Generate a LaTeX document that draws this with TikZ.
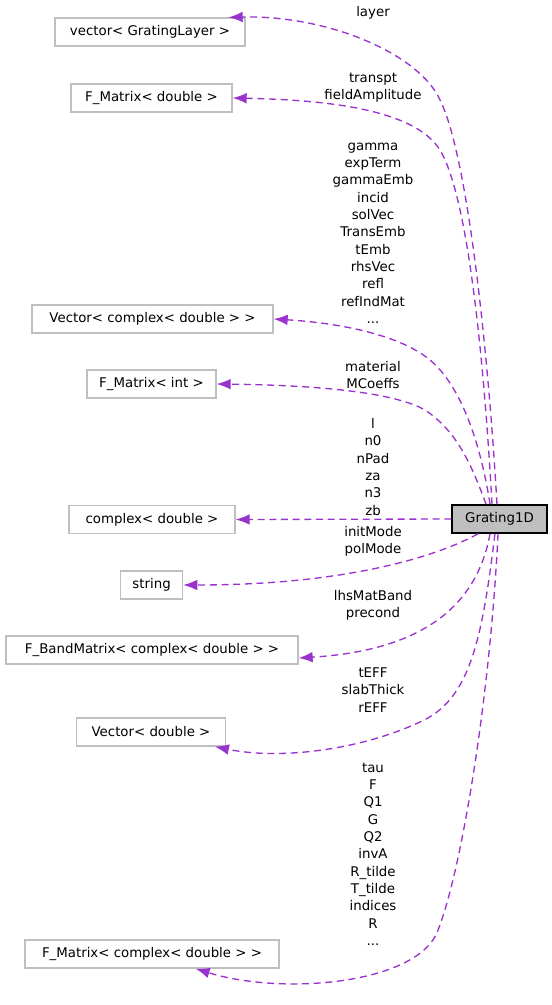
\documentclass[tikz,border=0pt]{standalone}
\usepackage{fontspec}
\setmainfont{DejaVu Sans}
\usetikzlibrary{arrows.meta}
\definecolor{edgeColor}{HTML}{9A32CD}
\definecolor{boxGray}{HTML}{BFBFBF}

\begin{document}
\begin{tikzpicture}[x=0.75pt,y=-0.75pt,font=\fontsize{10}{13}\selectfont]
	\tikzset{class/.style = {draw=boxGray,line width=1pt,minimum height=21pt,inner sep=0pt}}
	\tikzset{member/.style = {align=center,inner sep=0pt}}
	\tikzstyle{edge} = [-{Latex[length=10.5pt,width=8pt]},edgeColor,line width=1pt,dash pattern=on 5.25pt off 3.5pt]
	\useasboundingbox (0,0) rectangle (552,1005);
	%main class
	\node[class,draw=black,line width=1.1pt,fill=boxGray,minimum width=71.25pt] (g) at (499.5,519) {Grating1D};
	%member types
	\node[class,minimum width=142.5pt] (vgl) at (150,32) {vector< GratingLayer >};
	\node[class,minimum width=120.75pt] (fmd) at (151.5,98) {F\_Matrix< double >};
	\node[class,minimum width=180.75pt] (vcd) at (152.5,319) {Vector< complex< double > >};
	\node[class,minimum width=96.75pt] (fmi) at (151.5,384) {F\_Matrix< int >};
	\node[class,minimum width=124.5pt] (cd) at (152,519.5) {complex< double >};
	\node[class,minimum width=46.5pt] (str) at (151.6,585) {string};
	\node[class,minimum width=219pt] (bmc) at (152,650) {F\_BandMatrix< complex< double > >};
	\node[class,minimum width=111.4pt] (vd) at (151,732) {Vector< double >};
	\node[class,minimum width=190.5pt] (fmc) at (152,954) {F\_Matrix< complex< double > >};
	%member names
	\node[member] (mLayer) at (373,13) {layer};
	\node[member] (mFmd) at (373,88) {transpt\\fieldAmplitude};
	\node[member] (mVcd) at (373,233) {gamma\\expTerm\\gammaEmb\\incid\\solVec\\TransEmb\\tEmb\\rhsVec\\refl\\refIndMat\\...};
	\node[member] (mFmi) at (373,375) {material\\MCoeffs};
	\node[member] (mCd) at (373,467) {l\\n0\\nPad\\za\\n3\\zb};
	\node[member] (mStr) at (373,541) {initMode\\polMode};
	\node[member] (mBmc) at (373,605) {lhsMatBand\\precond};
	\node[member] (mVd) at (373,690) {tEFF\\slabThick\\rEFF};
	\node[member] (mFmc) at (373,854) {tau\\F\\Q1\\G\\Q2\\invA\\R\_tilde\\T\_tilde\\indices\\R\\...};
	%usage edges
	\draw[edge] ([xshift=-1.9pt]g.north) .. controls (490,380) and (470,160) .. (440,100) .. controls (420,55) and (330,15) .. ([xshift=-12.75pt]vgl.north east);
	\draw[edge] ([xshift=-5.6pt]g.north) .. controls (485,380) and (470,200) .. (440,150) .. controls (415,110) and (330,100) .. (fmd.east);
	\draw[edge] ([xshift=-7.1pt]g.north) .. controls (480,440) and (460,385) .. (430,360) .. controls (400,335) and (340,323) .. (vcd.east);
	\draw[edge] ([xshift=-10.1pt]g.north) .. controls (470,460) and (455,430) .. (425,410) .. controls (390,390) and (300,385) .. (fmi.east);
	\draw[edge] (g.west) -- (cd.east);
	\draw[edge] ([xshift=-16.1pt]g.south) .. controls (440,555) and (350,585) .. (str.east);
	\draw[edge] ([xshift=-7.1pt]g.south) .. controls (478,600) and (430,650) .. ([yshift=-6pt]bmc.east);
	\draw[edge] ([xshift=-3.4pt]g.south) .. controls (482,640) and (470,700) .. (420,722) .. controls (360,750) and (280,760) .. ([xshift=-8.25pt]vd.south east);
	\draw[edge] ([xshift=-1.1pt]g.south) .. controls (490,700) and (460,880) .. (436,935) .. controls (410,985) and (280,995) .. ([xshift=-63pt]fmc.south east);
\end{tikzpicture}
\end{document}
